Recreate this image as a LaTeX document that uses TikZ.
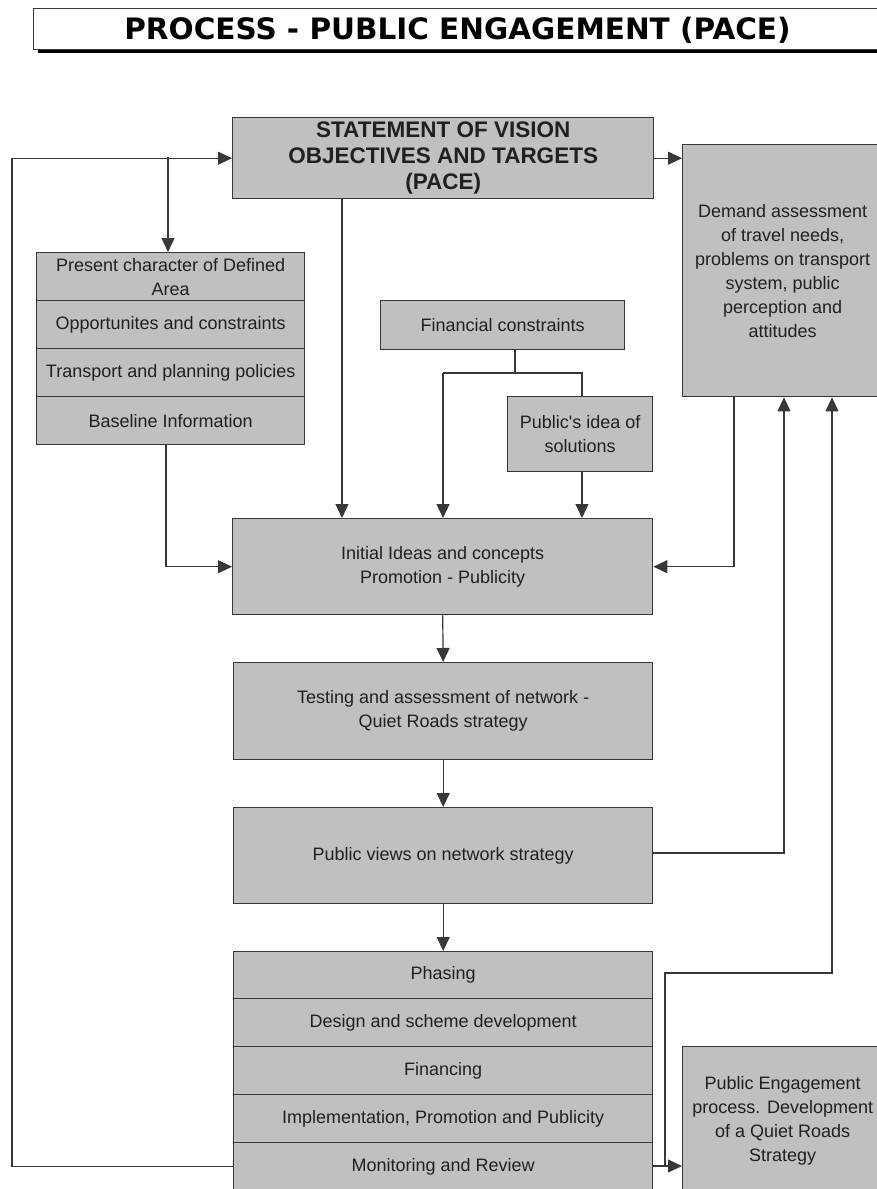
\documentclass[tikz,border=0pt]{standalone}
\usepackage{fontspec}
\setmainfont{Liberation Sans}
\newfontfamily\titlefont{DejaVu Sans}
\usetikzlibrary{arrows.meta}
\definecolor{boxfill}{HTML}{C0C0C0}
\definecolor{edge}{HTML}{383838}
\definecolor{ink}{HTML}{202020}
\begin{document}
\begin{tikzpicture}[x=1pt,y=-1pt,
  box/.style={draw=edge, fill=boxfill, line width=1.4pt, align=center, inner sep=0pt,
    text=ink, font=\fontsize{18}{24}\selectfont, anchor=north west},
  conn/.style={draw=edge, line width=1.2pt},
  arr/.style={conn, -{Triangle[length=14pt,width=13pt]}}]
\useasboundingbox (0,0) rectangle (877,1189);
% title
\fill[black] (38,12) rectangle (892,53);
\node[draw=edge, fill=white, line width=1.2pt, minimum width=857pt, minimum height=41pt,
  inner sep=0pt, anchor=north west] (title) at (33,8) {};
\node[font=\titlefont\bfseries\fontsize{29.5}{32}\selectfont, inner sep=0pt] (titletext) at (457.5,30)
  {PROCESS - PUBLIC ENGAGEMENT (PACE)};
% top box
\node[box, minimum width=421pt, minimum height=81pt, font=\bfseries\fontsize{22.5}{26}\selectfont]
  (vision) at (232,117) {STATEMENT OF VISION\\OBJECTIVES AND TARGETS\\(PACE)};
% left stack
\node[box, minimum width=268pt, minimum height=48pt] (s1) at (36,252) {Present character of Defined\\Area};
\node[box, minimum width=268pt, minimum height=48pt] (s2) at (36,300) {Opportunites and constraints};
\node[box, minimum width=268pt, minimum height=48pt] (s3) at (36,348) {Transport and planning policies};
\node[box, minimum width=268pt, minimum height=48pt] (s4) at (36,396) {Baseline Information};
% financial and public idea
\node[box, minimum width=244pt, minimum height=49pt] (fin) at (380,300) {Financial constraints};
\node[box, minimum width=145pt, minimum height=75pt] (idea) at (507,396) {Public\textquotesingle s idea of\\solutions};
% demand box
\node[box, minimum width=200pt, minimum height=252pt] (demand) at (682,144)
  {Demand assessment\\of travel needs,\\problems on transport\\system, public\\perception and\\attitudes};
% main column
\node[box, minimum width=420pt, minimum height=96pt] (initial) at (232,518)
  {Initial Ideas and concepts\\Promotion - Publicity};
\node[box, minimum width=419pt, minimum height=97pt] (testing) at (233,662)
  {Testing and assessment of network -\\Quiet Roads strategy};
\node[box, minimum width=419pt, minimum height=96pt] (views) at (233,807)
  {Public views on network strategy};
% bottom stack
\node[box, minimum width=419pt, minimum height=47pt] (b1) at (233,951) {Phasing};
\node[box, minimum width=419pt, minimum height=48pt] (b2) at (233,998) {Design and scheme development};
\node[box, minimum width=419pt, minimum height=48pt] (b3) at (233,1046) {Financing};
\node[box, minimum width=419pt, minimum height=48pt] (b4) at (233,1094) {Implementation, Promotion and Publicity};
\node[box, minimum width=419pt, minimum height=48pt] (b5) at (233,1142) {Monitoring and Review};
% public engagement box
\node[box, minimum width=200pt, minimum height=149pt] (pe) at (682,1046)
  {Public Engagement\\process. Development\\of a Quiet Roads\\Strategy};
% connectors
\coordinate (fbcorner) at (12,1166);
\coordinate (br) at (168,157);
\draw[arr] (b5.west) -- (b5.west -| fbcorner) |- (vision.west);
\draw[arr] (br) -- (br |- s1.north);
\draw[arr] (vision.east) -- (vision.east -| demand.west);
\coordinate (stackout) at (166,444);
\draw[arr] (stackout) |- (initial.west);
\coordinate (visout) at (342,198);
\draw[arr] (visout) -- (visout |- initial.north);
\coordinate (finj) at (515,373);
\coordinate (finl) at (443,373);
\coordinate (finr) at (582,373);
\draw[conn] (fin.south -| finj) -- (finj);
\draw[conn] (finl) -- (finr) -- (finr |- idea.north);
\draw[arr] (finl) -- (finl |- initial.north);
\draw[arr] (idea.south -| finr) -- (finr |- initial.north);
\coordinate (demout) at (734,396);
\draw[arr] (demout) |- (initial.east);
\coordinate (up1) at (784,853);
\draw[arr] (views.east |- up1) -- (up1) -- (up1 |- demand.south);
\draw[arr] (initial.south) -- (testing.north);
\draw[arr] (testing.south) -- (views.north);
\draw[arr] (views.south) -- (b1.north);
\coordinate (pej) at (665,1166);
\coordinate (up2) at (832,973);
\draw[arr] (b5.east |- pej) -- (pe.west |- pej);
\draw[arr] (pej) -- (pej |- up2) -- (up2) -- (up2 |- demand.south);
\end{tikzpicture}
\end{document}
